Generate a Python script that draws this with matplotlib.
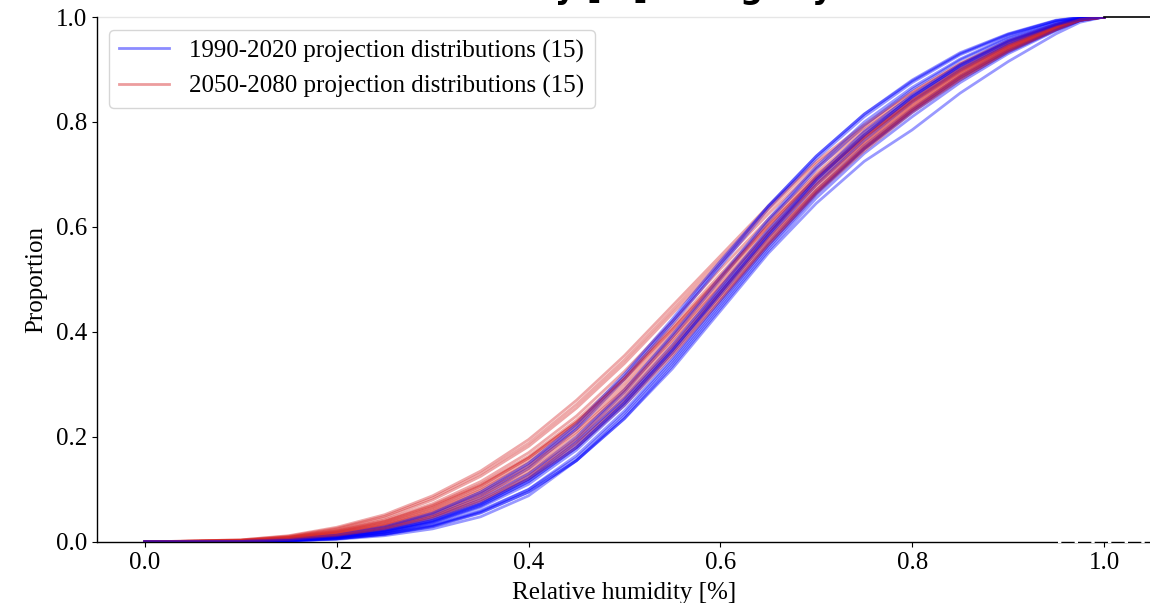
import matplotlib
matplotlib.use("Agg")
import matplotlib.pyplot as plt
from matplotlib.lines import Line2D

# ── Style ─────────────────────────────────────────────────────────────────────
plt.rcParams.update({
    "font.family":       "serif",
    "font.serif":        ["Liberation Serif", "DejaVu Serif"],
    "font.size":         18,
    "axes.linewidth":    1.0,
    "axes.spines.top":   False,
    "axes.spines.right": False,
    "xtick.major.size":  3.5,
    "ytick.major.size":  3.5,
})

# ── Data ──────────────────────────────────────────────────────────────────────
X_RH = [0.0, 0.10, 0.15, 0.20, 0.25, 0.30, 0.35, 0.40, 0.45, 0.50,
        0.55, 0.60, 0.65, 0.70, 0.75, 0.80, 0.85, 0.90, 0.95, 0.975, 1.00]

# 1990-2020 projections: steeper curves
HIST_CDFS = [
    [0, .000, .002, .005, .012, .025, .048, .088, .155, .235, .330, .440, .550, .645, .725, .785, .855, .915, .968, .990, 1],
    [0, .001, .003, .007, .016, .032, .060, .100, .165, .250, .350, .460, .570, .670, .755, .825, .888, .940, .978, .994, 1],
    [0, .001, .003, .008, .019, .037, .068, .115, .180, .265, .365, .475, .585, .685, .770, .843, .903, .950, .984, .996, 1],
    [0, .001, .004, .010, .022, .042, .075, .125, .195, .285, .390, .500, .610, .710, .793, .862, .918, .960, .990, .998, 1],
    [0, .001, .004, .011, .025, .048, .085, .140, .215, .310, .415, .525, .635, .730, .810, .875, .928, .966, .993, .999, 1],
    [0, .000, .002, .006, .014, .029, .055, .095, .155, .235, .335, .445, .555, .655, .740, .810, .875, .930, .974, .993, 1],
    [0, .001, .003, .009, .020, .040, .072, .120, .185, .270, .370, .480, .590, .690, .775, .848, .908, .954, .986, .997, 1],
    [0, .001, .004, .012, .027, .052, .090, .145, .220, .315, .420, .530, .640, .735, .815, .880, .932, .968, .994, .999, 1],
    [0, .001, .003, .008, .018, .036, .066, .110, .175, .260, .360, .470, .580, .680, .765, .838, .898, .947, .982, .996, 1],
    [0, .001, .002, .006, .015, .031, .058, .100, .160, .245, .345, .455, .565, .665, .750, .822, .885, .936, .976, .994, 1],
    [0, .001, .004, .010, .023, .045, .080, .130, .200, .290, .395, .505, .615, .715, .800, .866, .920, .962, .991, .998, 1],
    [0, .001, .003, .009, .021, .041, .073, .120, .190, .275, .375, .485, .595, .695, .782, .852, .910, .956, .987, .997, 1],
    [0, .001, .005, .013, .029, .055, .095, .150, .225, .320, .425, .535, .640, .735, .815, .878, .930, .967, .993, .999, 1],
    [0, .000, .002, .006, .015, .030, .056, .095, .155, .240, .340, .450, .560, .662, .748, .818, .880, .933, .975, .993, 1],
    [0, .001, .003, .008, .019, .038, .070, .115, .180, .265, .365, .475, .585, .690, .775, .848, .907, .953, .985, .996, 1],
]

# 2050-2080 projections: flatter curves, more mass at low humidity
FUT_CDFS = [
    [0, .004, .012, .028, .052, .088, .135, .195, .270, .355, .450, .545, .640, .725, .795, .858, .912, .955, .986, .997, 1],
    [0, .003, .010, .024, .046, .080, .125, .182, .255, .340, .435, .530, .625, .712, .785, .850, .905, .950, .984, .996, 1],
    [0, .003, .009, .022, .042, .073, .115, .170, .240, .325, .420, .520, .615, .703, .780, .845, .902, .948, .983, .996, 1],
    [0, .002, .008, .019, .037, .066, .106, .160, .228, .310, .405, .505, .603, .693, .770, .838, .896, .944, .981, .995, 1],
    [0, .002, .007, .017, .034, .061, .099, .150, .215, .295, .390, .490, .590, .683, .762, .832, .892, .942, .980, .995, 1],
    [0, .002, .006, .015, .031, .056, .092, .140, .205, .285, .380, .480, .580, .675, .755, .826, .887, .938, .978, .994, 1],
    [0, .001, .005, .013, .027, .050, .084, .130, .192, .272, .367, .470, .572, .668, .750, .822, .884, .936, .977, .994, 1],
    [0, .001, .004, .011, .024, .045, .077, .120, .180, .260, .355, .460, .565, .663, .745, .818, .880, .934, .976, .994, 1],
    [0, .003, .009, .021, .040, .070, .110, .163, .232, .315, .410, .510, .608, .698, .775, .842, .900, .946, .982, .995, 1],
    [0, .002, .007, .018, .035, .063, .102, .155, .222, .302, .397, .497, .596, .690, .768, .836, .895, .943, .980, .995, 1],
    [0, .004, .011, .026, .049, .084, .130, .188, .262, .347, .442, .538, .633, .720, .790, .855, .910, .953, .985, .996, 1],
    [0, .002, .006, .016, .032, .058, .095, .145, .210, .290, .385, .487, .588, .680, .760, .830, .890, .940, .979, .995, 1],
    [0, .001, .005, .014, .029, .053, .088, .135, .198, .278, .373, .475, .577, .670, .752, .824, .886, .937, .977, .994, 1],
    [0, .003, .008, .020, .039, .068, .108, .160, .228, .310, .404, .503, .602, .695, .772, .840, .898, .945, .981, .995, 1],
    [0, .001, .005, .012, .026, .048, .080, .125, .187, .266, .360, .465, .568, .665, .748, .820, .882, .935, .976, .994, 1],
]

HIST_LABEL = "1990-2020 projection distributions (15)"
FUT_LABEL = "2050-2080 projection distributions (15)"
HIST_COL = "#0000ff"
FUT_COL = "#d62728"
TITLE = "Relative humidity [%] \u2014 Nightly"

# ── Figure ────────────────────────────────────────────────────────────────────
fig = plt.figure(figsize=(11.5, 6.03), dpi=100)
ax = fig.add_axes([0.0843, 0.1012, 0.9174, 0.8706])

for hist, fut in zip(HIST_CDFS, FUT_CDFS):
    ax.plot(X_RH, fut, color=FUT_COL, lw=2.0, alpha=0.4)
    ax.plot(X_RH, hist, color=HIST_COL, lw=2.0, alpha=0.4)

ax.set_xlim(-0.05, 1.05)
ax.set_ylim(0, 1.0)
ax.set_xticks([0.0, 0.2, 0.4, 0.6, 0.8, 1.0])
ax.set_yticks([0.0, 0.2, 0.4, 0.6, 0.8, 1.0])
ax.set_xlabel("Relative humidity [%]", labelpad=6)
ax.set_ylabel("Proportion", labelpad=6)

# top edge: faint rule over the data, solid beyond x=1
ax.plot([-0.05, 1.0], [1, 1], color="#e6e6e6", lw=1.0, clip_on=False, zorder=0)
ax.plot([1.0, 1.05], [1, 1], color="black", lw=1.2, clip_on=False, zorder=3)
# broken bottom spine near the right end
ax.plot([0.952, 1.05], [0, 0], color="white", lw=1.6, clip_on=False,
        zorder=4, ls=(0, (1.5, 6)))

handles = [Line2D([], [], color=HIST_COL, lw=2.0, alpha=0.45),
           Line2D([], [], color=FUT_COL, lw=2.0, alpha=0.45)]
ax.legend(handles, [HIST_LABEL, FUT_LABEL], loc="upper left",
          fontsize=18, framealpha=0.8, edgecolor="0.8")

# title sits mostly above the top edge, only descenders show
fig.text(0.2235, 1.004, TITLE, ha="left", va="baseline",
         fontsize=23, fontweight="bold", family="DejaVu Sans")

fig.savefig("out.png", dpi=100)
